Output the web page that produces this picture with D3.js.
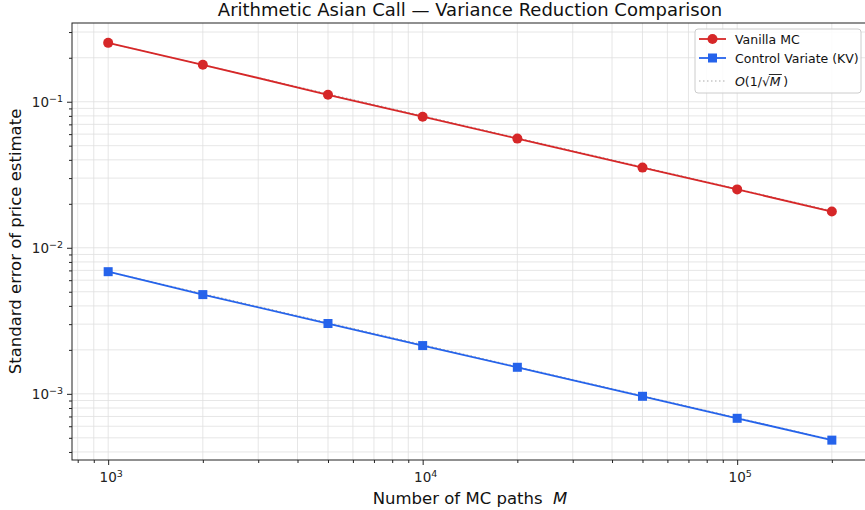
<html>
<head>
<meta charset="utf-8" />
<script src="https://cdn.jsdelivr.net/npm/d3@7"></script>
<style>
  body { margin: 0; background: #fff; }
  svg { font-family: "DejaVu Sans", sans-serif; }
  .grid line { stroke: #dfdfdf; stroke-width: 0.8px; }
</style>
</head>
<body>
<svg id="chart" width="865" height="510"></svg>
<script>
// values
var paths = [1000, 2000, 5000, 10000, 20000, 50000, 100000, 200000];
var vanillaSE = [0.253, 0.179, 0.1116, 0.0790, 0.0559, 0.0354, 0.0251, 0.0177];
var cvSE = [0.00686, 0.00478, 0.00303, 0.00214, 0.00152, 0.000962, 0.000680, 0.000482];
var xTicks = [1e3, 1e4, 1e5];
var xTickExp = ["3", "4", "5"];
var yTicks = [1e-3, 1e-2, 1e-1];
var yTickExp = ["\u22123", "\u22122", "\u22121"];

var red = "#d62728", blue = "#2563eb";
var svg = d3.select("#chart");
var pLeft = 72, pRight = 868, pTop = 23, pBottom = 460;

var x = d3.scaleLog().domain([Math.pow(10, 2.885), Math.pow(10, 5.416)]).range([pLeft, pRight]);
var y = d3.scaleLog().domain([Math.pow(10, -3.453), Math.pow(10, -0.461)]).range([pBottom, pTop]);

// minor tick values
function minors(lo, hi) {
    var out = [];
    for (var e = lo; e <= hi; e++) {
        for (var k = 1; k < 10; k++) out.push(k * Math.pow(10, e));
    }
    return out;
}
var xAll = minors(2, 5).filter(function(v) { return v >= x.domain()[0] && v <= x.domain()[1]; });
var yAll = minors(-4, -1).filter(function(v) { return v >= y.domain()[0] && v <= y.domain()[1]; });
function isMajor(list, d) {
    return list.some(function(t) { return Math.abs(t - d) / t < 1e-9; });
}

// grid
var grid = svg.append("g").classed("grid", true);
grid.selectAll("line.gx").data(xAll).enter().append("line")
    .attr("x1", function(d) { return x(d); }).attr("x2", function(d) { return x(d); })
    .attr("y1", pTop).attr("y2", pBottom);
grid.selectAll("line.gy").data(yAll).enter().append("line")
    .attr("y1", function(d) { return y(d); }).attr("y2", function(d) { return y(d); })
    .attr("x1", pLeft).attr("x2", pRight);

// axes (ticks only, labels drawn below)
var xAxis = svg.append("g").attr("transform", "translate(0," + pBottom + ")");
xAxis.call(d3.axisBottom(x).tickValues(xAll).tickSize(3).tickFormat(""));
xAxis.select(".domain").remove();
xAxis.selectAll(".tick line").filter(function(d) { return isMajor(xTicks, d); }).attr("y2", 5);
xAxis.selectAll(".tick line").attr("stroke", "#222");

var yAxis = svg.append("g").attr("transform", "translate(" + pLeft + ",0)");
yAxis.call(d3.axisLeft(y).tickValues(yAll).tickSize(3).tickFormat(""));
yAxis.select(".domain").remove();
yAxis.selectAll(".tick line").filter(function(d) { return isMajor(yTicks, d); }).attr("x2", -5);
yAxis.selectAll(".tick line").attr("stroke", "#222");

function supLabel(sel, exps) {
    sel.each(function(d, i) {
        var t = d3.select(this);
        t.append("tspan").text("10");
        t.append("tspan").attr("dy", "-0.5em").attr("font-size", "9.5px").text(exps[i]);
    });
}
svg.selectAll("text.xlab").data(xTicks).enter().append("text")
    .attr("x", function(d) { return x(d) + 3; }).attr("y", pBottom + 22)
    .attr("text-anchor", "middle").attr("font-size", "13.5px").attr("fill", "#222")
    .call(supLabel, xTickExp);
svg.selectAll("text.ylab").data(yTicks).enter().append("text")
    .attr("x", pLeft - 9).attr("y", function(d) { return y(d) + 5; })
    .attr("text-anchor", "end").attr("font-size", "13.5px").attr("fill", "#222")
    .call(supLabel, yTickExp);

// spines
svg.append("rect").attr("x", pLeft).attr("y", pTop).attr("width", pRight - pLeft).attr("height", pBottom - pTop)
    .attr("fill", "none").attr("stroke", "#222").attr("stroke-width", 1);

// O(1/sqrt(M)) reference lines anchored on the first point
var refV = paths.map(function(m) { return vanillaSE[0] * Math.sqrt(paths[0] / m); });
var refC = paths.map(function(m) { return cvSE[0] * Math.sqrt(paths[0] / m); });
var line = d3.line().x(function(d) { return x(d[0]); }).y(function(d) { return y(d[1]); });
[refV, refC].forEach(function(r) {
    svg.append("path").datum(d3.zip(paths, r)).attr("d", line)
        .attr("fill", "none").attr("stroke", "#aaa").attr("stroke-width", 1.2).attr("stroke-dasharray", "1.5,2.5");
});

// series
svg.append("path").datum(d3.zip(paths, vanillaSE)).attr("d", line)
    .attr("fill", "none").attr("stroke", red).attr("stroke-width", 1.8);
svg.selectAll("circle.v").data(d3.zip(paths, vanillaSE)).enter().append("circle")
    .attr("cx", function(d) { return x(d[0]); }).attr("cy", function(d) { return y(d[1]); })
    .attr("r", 5).attr("fill", red);

svg.append("path").datum(d3.zip(paths, cvSE)).attr("d", line)
    .attr("fill", "none").attr("stroke", blue).attr("stroke-width", 1.8);
svg.selectAll("rect.c").data(d3.zip(paths, cvSE)).enter().append("rect")
    .attr("x", function(d) { return x(d[0]) - 4.5; }).attr("y", function(d) { return y(d[1]) - 4.5; })
    .attr("width", 9).attr("height", 9).attr("fill", blue);

// title and labels
svg.append("text").attr("x", (pLeft + pRight) / 2).attr("y", 16).attr("text-anchor", "middle")
    .attr("font-size", "18px").attr("fill", "#111").text("Arithmetic Asian Call \u2014 Variance Reduction Comparison");

var xl = svg.append("text").attr("x", (pLeft + pRight) / 2).attr("y", 504).attr("text-anchor", "middle")
    .attr("font-size", "16.5px").attr("fill", "#111");
xl.append("tspan").text("Number of MC paths\u00a0\u00a0");
xl.append("tspan").attr("font-style", "italic").text("M");

svg.append("text").attr("transform", "translate(21," + (pTop + pBottom) / 2 + ") rotate(-90)")
    .attr("text-anchor", "middle").attr("font-size", "16.5px").attr("fill", "#111")
    .text("Standard error of price estimate");

// legend
var lg = svg.append("g").attr("transform", "translate(695,29)");
lg.append("rect").attr("width", 166).attr("height", 64).attr("rx", 3)
    .attr("fill", "#fff").attr("fill-opacity", 0.85).attr("stroke", "#ccc");
var entries = ["Vanilla MC", "Control Variate (KV)", "ref"];
var ly = [10, 29, 52];
lg.selectAll("g.e").data(entries).enter().append("g")
    .attr("transform", function(d, i) { return "translate(0," + ly[i] + ")"; })
    .each(function(d, i) {
        var g = d3.select(this);
        if (i == 0) {
            g.append("line").attr("x1", 4).attr("x2", 31).attr("stroke", red).attr("stroke-width", 1.8);
            g.append("circle").attr("cx", 17.5).attr("r", 5).attr("fill", red);
        } else if (i == 1) {
            g.append("line").attr("x1", 4).attr("x2", 31).attr("stroke", blue).attr("stroke-width", 1.8);
            g.append("rect").attr("x", 13).attr("y", -4.5).attr("width", 9).attr("height", 9).attr("fill", blue);
        } else {
            g.append("line").attr("x1", 4).attr("x2", 31).attr("stroke", "#aaa").attr("stroke-width", 1.2)
                .attr("stroke-dasharray", "1.5,2.5");
        }
        var t = g.append("text").attr("x", 40).attr("y", 4.5).attr("font-size", "12.5px").attr("fill", "#111");
        if (i < 2) {
            t.text(d);
        } else {
            t.append("tspan").attr("font-style", "italic").text("O");
            t.append("tspan").text("(1/\u221a");
            t.append("tspan").attr("font-style", "italic").text("M");
            t.append("tspan").text("\u2009)");
        }
    });
// overline of the square root
var tsp = lg.selectAll("g").filter(function(d) { return d == "ref"; }).selectAll("tspan").nodes();
var b = tsp[2].getBBox();
lg.append("line").attr("x1", b.x - 1).attr("x2", b.x + b.width + 1)
    .attr("y1", ly[2] + b.y + 1).attr("y2", ly[2] + b.y + 1).attr("stroke", "#111").attr("stroke-width", 0.9);
</script>
</body>
</html>
